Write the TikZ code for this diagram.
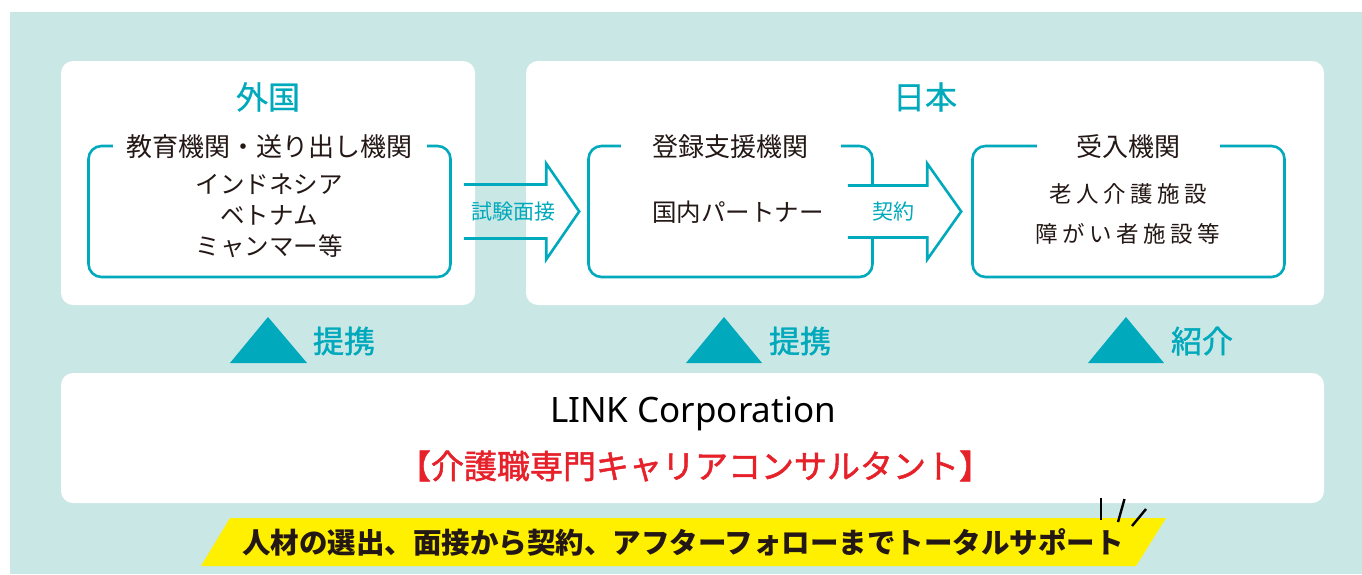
\documentclass[tikz,border=0pt]{standalone}
\usepackage{fontspec}
\setmainfont{Noto Sans CJK JP}
\newfontfamily\latinsans{Noto Sans}
\usetikzlibrary{calc}
\definecolor{bgteal}{HTML}{C9E7E5}
\definecolor{tealc}{HTML}{00A9BB}
\definecolor{txt}{HTML}{231815}
\definecolor{redt}{HTML}{E6212A}
\definecolor{yel}{HTML}{FFF000}
\tikzset{
  panel/.style={fill=white, rounded corners=12pt},
  ibox/.style={draw=tealc, line width=2.6pt, rounded corners=13pt, rectangle, minimum height=131pt, inner sep=0pt},
  ttl/.style={fill=white, inner sep=0pt, minimum height=12pt, text=txt, font=\fontsize{26}{28}\selectfont},
  body/.style={text=txt, align=center, inner sep=0pt},
  head/.style={text=tealc, inner sep=0pt, font=\fontsize{32}{34}\selectfont\addfontfeatures{FakeBold=0.6}},
  arrline/.style={draw=tealc, line width=2.6pt, line join=miter},
  alabel/.style={text=tealc, inner sep=0pt, font=\fontsize{21}{24}\selectfont},
  tri/.style={fill=tealc},
  tlabel/.style={text=tealc, inner sep=0pt, font=\fontsize{31}{34}\selectfont\addfontfeatures{FakeBold=1.2}},
  spark/.style={draw=black, line width=2.4pt}
}
\begin{document}
\begin{tikzpicture}[x=1pt,y=-1pt]
\useasboundingbox (0,0) rectangle (1362,574);
\fill[white] (0,0) rectangle (1362,574);
\fill[bgteal] (10,12) rectangle (1362,574);
% panels
\fill[panel] (61,61) rectangle (475,305);
\fill[panel] (526,61) rectangle (1324,305);
\fill[panel] (61,373) rectangle (1324,503);
% headers
\node[head] (hforeign) at (268,97) {外国};
\node[head] (hjapan) at (925,97) {日本};
% inner boxes
\node[ibox, minimum width=362pt] (send) at (269.5,211.5) {};
\node[ibox, minimum width=284pt] (reg) at (730.5,211.5) {};
\node[ibox, minimum width=312pt] (acc) at (1128.5,211.5) {};
% titles
\node[ttl, minimum width=314pt] (tsend) at ([yshift=-2pt]send.north) {教育機関・送り出し機関};
\node[ttl, minimum width=220pt] (treg) at ([yshift=-2pt]reg.north) {登録支援機関};
\node[ttl, minimum width=183pt] (tacc) at ([yshift=-2pt]acc.north) {受入機関};
% bodies
\node[body, font=\fontsize{24.5}{31}\selectfont] (bsend) at (269,216) {インドネシア\\ベトナム\\ミャンマー等};
\node[body, font=\fontsize{24.5}{28}\selectfont] (breg) at (738,212) {国内パートナー};
\node[body, font=\fontsize{22.5}{40}\selectfont\addfontfeatures{LetterSpace=20}] (bacc) at (1128,214) {老人介護施設\\障がい者施設等};
% arrow 1
\coordinate (a1s) at ([xshift=12pt]send.east);
\coordinate (a1t) at ([xshift=-8pt]reg.west);
\coordinate (a1b) at ($(a1t)+(-33,0)$);
\draw[arrline] ($(a1s)+(0,-27)$) -- ($(a1b |- a1s)+(0,-27)$) -- ($(a1b)+(0,-48)$) -- (a1t) -- ($(a1b)+(0,48)$) -- ($(a1b |- a1s)+(0,27)$) -- ($(a1s)+(0,27)$);
\node[alabel] (l1) at (513,212) {試験面接};
% arrow 2
\fill[white] ($(reg.east)+(-3,-26)$) rectangle ($(reg.east)+(3,26)$);
\coordinate (a2s) at ([xshift=-26pt]reg.east);
\coordinate (a2t) at ([xshift=-10pt]acc.west);
\coordinate (a2b) at ($(a2t)+(-34,0)$);
\draw[arrline] ($(a2s)+(0,-26)$) -- ($(a2b |- a2s)+(0,-26)$) -- ($(a2b)+(0,-48)$) -- (a2t) -- ($(a2b)+(0,48)$) -- ($(a2b |- a2s)+(0,26)$) -- ($(a2s)+(0,26)$);
\node[alabel] (l2) at (893,212) {契約};
% triangles
\fill[tri] (230,363) -- (268,317) -- (307,363) -- cycle;
\fill[tri] (686,363) -- (724,317) -- (762,363) -- cycle;
\fill[tri] (1088,363) -- (1126,317) -- (1164,363) -- cycle;
\node[tlabel] (tl1) at (344,341) {提携};
\node[tlabel] (tl2) at (800,341) {提携};
\node[tlabel] (tl3) at (1202,341) {紹介};
% LINK
\node[inner sep=0pt, text=black, font=\latinsans\fontsize{35}{38}\selectfont] (link) at (693,414) {LINK Corporation};
\node[inner sep=0pt, text=redt, font=\fontsize{33}{38}\selectfont\addfontfeatures{FakeBold=1.5}] (cons) at (695,466) {【介護職専門キャリアコンサルタント】};
% banner
\fill[yel] (230,518) -- (1166,518) -- (1136,566) -- (201,566) -- cycle;
\node[inner sep=0pt, text=txt, font=\bfseries\fontsize{28.5}{32}\selectfont] (slogan) at (683,542) {人材の選出、面接から契約、アフターフォローまでトータルサポート};
\draw[spark] (1101,498) -- (1101,520);
\draw[spark] (1124.5,499) -- (1118,522);
\draw[spark] (1146,509) -- (1132,526);
\end{tikzpicture}
\end{document}
